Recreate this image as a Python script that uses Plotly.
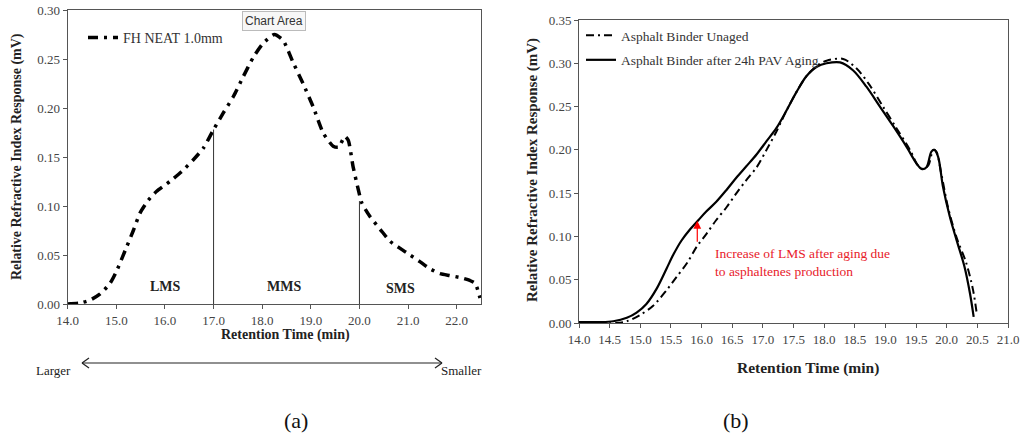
import plotly.graph_objects as go

W, H = 1022, 439

# ---------------- Data: panel (a) ----------------
a_time = [14.0, 14.25, 14.46, 14.66, 14.87, 15.0, 15.21, 15.35, 15.49, 15.66, 15.83, 16.10,
          16.34, 16.58, 16.79, 17.0, 17.2, 17.41, 17.61, 17.82, 18.02, 18.25, 18.43, 18.64,
          18.84, 19.05, 19.26, 19.46, 19.57, 19.70, 19.77, 19.87, 19.98, 20.05, 20.22, 20.43,
          20.63, 20.83, 21.04, 21.25, 21.45, 21.66, 21.86, 22.07, 22.27, 22.38, 22.48]
a_resp = [0.0, 0.001, 0.004, 0.010, 0.021, 0.033, 0.058, 0.075, 0.093, 0.106, 0.115, 0.125,
          0.135, 0.147, 0.159, 0.178, 0.195, 0.212, 0.232, 0.252, 0.266, 0.275, 0.269, 0.246,
          0.225, 0.201, 0.174, 0.161, 0.160, 0.171, 0.167, 0.140, 0.116, 0.103, 0.089, 0.076,
          0.064, 0.057, 0.050, 0.043, 0.036, 0.031, 0.029, 0.027, 0.024, 0.021, 0.006]
divider_x = [17.0, 20.0]
divider_top = [0.178, 0.105]
region_labels = ["LMS", "MMS", "SMS"]
region_x = [16.02, 18.45, 20.85]
region_y = [0.018, 0.018, 0.016]
a_xticks = [14.0, 15.0, 16.0, 17.0, 18.0, 19.0, 20.0, 21.0, 22.0]
a_yticks = [0.00, 0.05, 0.10, 0.15, 0.20, 0.25, 0.30]

# ---------------- Data: panel (b) ----------------
aged_time = [14.0, 14.34, 14.56, 14.78, 14.94, 15.10, 15.27, 15.43, 15.54, 15.67, 15.81, 15.95,
             16.08, 16.24, 16.41, 16.57, 16.73, 16.90, 17.06, 17.22, 17.39, 17.55, 17.71, 17.88,
             18.04, 18.26, 18.47, 18.69, 18.91, 19.13, 19.34, 19.51, 19.59, 19.67, 19.75, 19.80,
             19.86, 19.94, 20.05, 20.16, 20.29, 20.38, 20.44]
aged_resp = [0.001, 0.001, 0.002, 0.006, 0.012, 0.022, 0.040, 0.063, 0.079, 0.095, 0.108, 0.119,
             0.129, 0.140, 0.154, 0.168, 0.181, 0.195, 0.210, 0.225, 0.246, 0.267, 0.285, 0.296,
             0.300, 0.301, 0.292, 0.273, 0.250, 0.227, 0.204, 0.184, 0.178, 0.180, 0.198, 0.200,
             0.192, 0.157, 0.123, 0.096, 0.065, 0.034, 0.007]
unaged_time = [14.0, 14.61, 14.78, 14.99, 15.21, 15.43, 15.59, 15.76, 15.92, 16.08, 16.24, 16.41,
               16.57, 16.73, 16.90, 17.06, 17.22, 17.39, 17.55, 17.71, 17.88, 18.04, 18.31, 18.53,
               18.74, 18.96, 19.18, 19.40, 19.53, 19.61, 19.70, 19.78, 19.83, 19.91, 20.02, 20.16,
               20.32, 20.43, 20.49]
unaged_resp = [0.0, 0.0, 0.002, 0.009, 0.020, 0.038, 0.053, 0.069, 0.088, 0.103, 0.119, 0.134,
               0.150, 0.165, 0.180, 0.200, 0.221, 0.246, 0.267, 0.285, 0.297, 0.303, 0.305, 0.294,
               0.275, 0.250, 0.225, 0.200, 0.182, 0.178, 0.182, 0.200, 0.198, 0.173, 0.134, 0.099,
               0.069, 0.038, 0.011]
arrow_x = 15.93
arrow_from = 0.092
arrow_to = 0.118
b_xticks = [14.0, 14.5, 15.0, 15.5, 16.0, 16.5, 17.0, 17.5, 18.0, 18.5, 19.0, 19.5, 20.0, 20.5, 21.0]
b_yticks = [0.00, 0.05, 0.10, 0.15, 0.20, 0.25, 0.30, 0.35]

SERIF = "Liberation Serif, Times New Roman, serif"
TICK_COLOR = "#444"


def px(x):
    return x / W


def py(y):
    return 1 - y / H


fig = go.Figure()

# panel (a) curve
fig.add_trace(go.Scatter(
    x=a_time, y=a_resp, mode="lines", name="FH NEAT 1.0mm",
    line=dict(color="black", width=3.5, dash="10px,6px,3px,6px", shape="spline", smoothing=0.6),
    xaxis="x", yaxis="y", legend="legend"))
# divider lines
for dx, dt in zip(divider_x, divider_top):
    fig.add_trace(go.Scatter(x=[dx, dx], y=[0, dt], mode="lines", showlegend=False,
                             line=dict(color="#333", width=1), xaxis="x", yaxis="y"))

# panel (b) curves
fig.add_trace(go.Scatter(
    x=unaged_time, y=unaged_resp, mode="lines", name="Asphalt Binder Unaged",
    line=dict(color="black", width=2, dash="8px,4px,2px,4px", shape="spline", smoothing=0.9),
    xaxis="x2", yaxis="y2", legend="legend2", legendgroup="u"))
fig.add_trace(go.Scatter(
    x=aged_time, y=aged_resp, mode="lines", name="Asphalt Binder after 24h PAV Aging",
    line=dict(color="black", width=2.2, shape="spline", smoothing=0.9),
    xaxis="x2", yaxis="y2", legend="legend2", legendgroup="a"))

axis_common = dict(showline=True, linecolor="#555", linewidth=1, mirror=True,
                   ticks="outside", ticklen=4, tickcolor="#555", showgrid=False, zeroline=False,
                   automargin=False,
                   tickfont=dict(family=SERIF, size=13, color=TICK_COLOR))

fig.update_layout(
    width=W, height=H, autosize=False,
    margin=dict(l=0, r=0, t=0, b=0, autoexpand=False),
    paper_bgcolor="white", plot_bgcolor="white",
    xaxis=dict(domain=[px(67.7), px(481)], range=[14, 22.5], tickvals=a_xticks,
               tickformat=".1f", anchor="y", **axis_common),
    yaxis=dict(domain=[py(304), py(10)], range=[0, 0.30], tickvals=a_yticks,
               tickformat=".2f", anchor="x", **axis_common),
    xaxis2=dict(domain=[px(579), px(1008)], range=[14, 21], tickvals=b_xticks,
                tickformat=".1f", anchor="y2", **axis_common),
    yaxis2=dict(domain=[py(323), py(20)], range=[0, 0.35], tickvals=b_yticks,
                tickformat=".2f", anchor="x2", **axis_common),
    legend=dict(x=px(83), y=py(22), xanchor="left", yanchor="top", bgcolor="rgba(0,0,0,0)",
                font=dict(family=SERIF, size=14, color="#333"), itemwidth=30),
    legend2=dict(x=px(581), y=py(20), xanchor="left", yanchor="top", bgcolor="rgba(0,0,0,0)",
                 font=dict(family=SERIF, size=13.5, color="#333"), itemwidth=30,
                 tracegroupgap=4),
)


def txt(text, x, y, size, color="#222", family=SERIF, **kw):
    d = dict(text=text, x=px(x), y=py(y), xref="paper", yref="paper", showarrow=False,
             xanchor="center", yanchor="middle", font=dict(family=family, size=size, color=color))
    d.update(kw)
    return d


ann = []
# axis titles
ann.append(txt("<b>Relative Refractive Index Response (mV)</b>", 17, 157, 14, textangle=-90))
ann.append(txt("<b>Retention Time (min)</b>", 285, 335, 14))
ann.append(txt("<b>Relative Refractive Index Response (mV)</b>", 532, 170, 15, textangle=-90))
ann.append(txt("<b>Retention Time (min)</b>", 808, 368, 15.5))
# region labels
for lab, rx, ry in zip(region_labels, region_x, region_y):
    ann.append(dict(text="<b>" + lab + "</b>", x=rx, y=ry, xref="x", yref="y", showarrow=False,
                    xanchor="center", yanchor="middle",
                    font=dict(family=SERIF, size=14, color="#222")))
# Larger / Smaller
ann.append(txt("Larger", 53, 370, 13))
ann.append(txt("Smaller", 461, 370, 13))
# sub captions
ann.append(txt("(a)", 296, 420, 22, color="#111"))
ann.append(txt("(b)", 736, 420, 22, color="#111"))
# Chart Area tooltip
ann.append(txt("Chart Area", 274, 21, 12, color="#333",
               family="Liberation Sans, Arial, sans-serif",
               bgcolor="#f7f7f7", bordercolor="#bbb", borderwidth=1, borderpad=2))
# red arrow + text
ann.append(dict(x=arrow_x, y=arrow_to, ax=arrow_x, ay=arrow_from, xref="x2", yref="y2",
                axref="x2", ayref="y2", showarrow=True, arrowhead=2, arrowsize=1.3,
                arrowwidth=1.2, arrowcolor="red", text=""))
ann.append(txt("Increase of LMS after aging due<br>to asphaltenes production", 713, 244, 13.5,
               color="#e8202a", xanchor="left", yanchor="top", align="left"))
fig.update_layout(annotations=ann)


# double arrow under panel (a)
def seg(x0, y0, x1, y1):
    return dict(type="line", xref="paper", yref="paper", x0=px(x0), x1=px(x1), y0=py(y0),
                y1=py(y1), line=dict(color="#222", width=1.2))


shapes = [seg(82, 363, 442, 363), seg(82, 363, 89, 358), seg(82, 363, 89, 368),
          seg(442, 363, 435, 358), seg(442, 363, 435, 368)]
fig.update_layout(shapes=shapes)

fig.write_html("out.html")
